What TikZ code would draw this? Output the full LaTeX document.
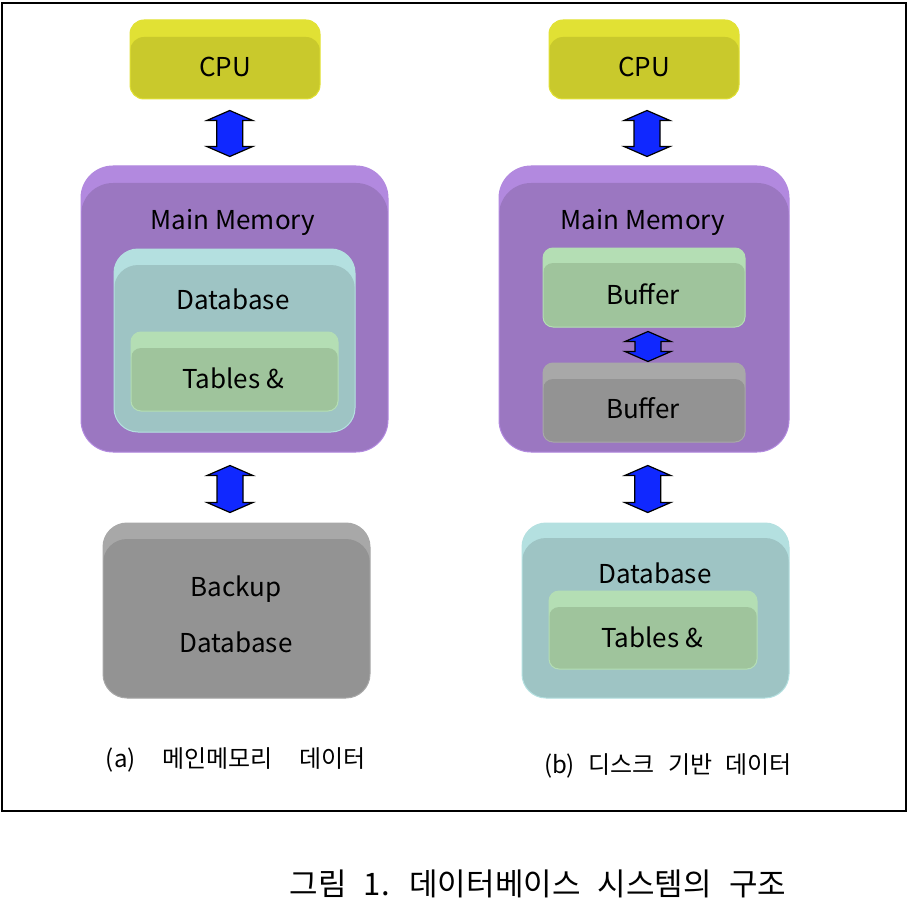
\documentclass[tikz,border=0pt]{standalone}
\usepackage{fontspec}
\setmainfont{Noto Sans CJK KR}
\newfontfamily\kor{Noto Sans CJK KR}[WordSpace=2.5]
\usetikzlibrary{calc}
\definecolor{cpuface}{RGB}{225,225,52}
\definecolor{cpubody}{RGB}{201,201,44}
\definecolor{memface}{RGB}{178,137,223}
\definecolor{membody}{RGB}{155,119,193}
\definecolor{dbface}{RGB}{180,224,224}
\definecolor{dbbody}{RGB}{158,196,196}
\definecolor{tabface}{RGB}{180,222,180}
\definecolor{tabbody}{RGB}{159,196,156}
\definecolor{bakface}{RGB}{168,168,168}
\definecolor{bakbody}{RGB}{147,147,147}
\definecolor{arrowblue}{RGB}{16,40,255}
\tikzset{
  slab/.style n args={4}{rectangle, rounded corners=#4, fill=#1, draw=#1,
    line width=1pt, inner sep=0pt,
    path picture={\fill[#2, rounded corners=#4]
      (path picture bounding box.south west) rectangle
      ([yshift=-#3pt]path picture bounding box.north east);}},
  gaptop/.store in=\gaptop, gapbot/.store in=\gapbot, shiftx/.store in=\shiftx,
  gaptop=10, gapbot=10, shiftx=0,
  dualarrow/.style={draw=black, line width=1.2pt, fill=arrowblue, line join=miter,
    to path={let \p1=($(\tikztostart.south)+(0,\gaptop)$),
      \p2=($(\tikztotarget.north)+(0,-\gapbot)$),
      \p3=($(\p1)!.5!(\p2)+(\shiftx,0)$) in
      (\x3,\y1) -- (\x3+23pt,\y1-10pt) -- (\x3+13pt,\y1-10pt)
      -- (\x3+13pt,\y2+10pt) -- (\x3+23pt,\y2+10pt) -- (\x3,\y2)
      -- (\x3-23pt,\y2+10pt) -- (\x3-13pt,\y2+10pt)
      -- (\x3-13pt,\y1-10pt) -- (\x3-23pt,\y1-10pt) -- cycle}},
}
\begin{document}
\begin{tikzpicture}[x=1pt,y=-1pt,
    txt/.style={font=\fontsize{26}{56}\selectfont, align=center, inner sep=0pt},
    captext/.style={font=\kor\fontsize{24}{28}\selectfont, inner sep=0pt}]
  \fill[white] (0,0) rectangle (908,920);
  \useasboundingbox (0,0) rectangle (908,920);
  \draw[line width=2.5pt] (2,3) rectangle (906,811);

  % (a) main memory
  \node[slab={cpuface}{cpubody}{17}{14pt}, minimum width=190pt, minimum height=79pt] (cpuA) at (225,59.5) {};
  \node[slab={memface}{membody}{17}{32pt}, minimum width=307pt, minimum height=286pt] (mmA) at (234.5,309) {};
  \node[slab={dbface}{dbbody}{16}{24pt}, minimum width=241pt, minimum height=183pt] (dbA) at (234.5,340.5) {};
  \node[slab={tabface}{tabbody}{16}{10pt}, minimum width=207pt, minimum height=79pt] (tabA) at (234.5,371.5) {};
  \node[slab={bakface}{bakbody}{16}{24pt}, minimum width=267pt, minimum height=175pt] (bakA) at (236.5,610.5) {};
  \node[txt] (cpuAtxt) at (225,67) {CPU};
  \node[txt] (mmAtxt) at (233,222) {Main Memory};
  \node[txt] (dbAtxt) at (233,299) {Database};
  \node[txt] (tabAtxt) at (233,378) {Tables \&};
  \node[txt] (bakAtxt) at (236,614) {Backup\\Database};
  \draw[dualarrow, gaptop=11, gapbot=9] (cpuA) to (mmA);
  \draw[dualarrow, gaptop=13, gapbot=10, shiftx=-5.5] (mmA) to (bakA);

  % (b) disk based
  \node[slab={cpuface}{cpubody}{17}{14pt}, minimum width=190pt, minimum height=79pt] (cpuB) at (644,59.5) {};
  \node[slab={memface}{membody}{17}{32pt}, minimum width=290pt, minimum height=286pt] (mmB) at (644,309) {};
  \node[slab={tabface}{tabbody}{15}{10pt}, minimum width=202pt, minimum height=79pt] (bufB1) at (644,287.5) {};
  \node[slab={bakface}{bakbody}{16}{10pt}, minimum width=202pt, minimum height=79pt] (bufB2) at (644,402.5) {};
  \node[slab={dbface}{dbbody}{15}{24pt}, minimum width=267pt, minimum height=175pt] (dbB) at (655.5,610.5) {};
  \node[slab={tabface}{tabbody}{16}{10pt}, minimum width=208pt, minimum height=78pt] (tabB) at (653,630) {};
  \node[txt] (cpuBtxt) at (644,67) {CPU};
  \node[txt] (mmBtxt) at (643,222) {Main Memory};
  \node[txt] (bufB1txt) at (643,294) {Buffer};
  \node[txt] (bufB2txt) at (643,408) {Buffer};
  \node[txt] (dbBtxt) at (655,573) {Database};
  \node[txt] (tabBtxt) at (652,637) {Tables \&};
  \draw[dualarrow, gaptop=11, gapbot=9, shiftx=3] (cpuB) to (mmB);
  \draw[dualarrow, gaptop=4, gapbot=1, shiftx=4] (bufB1) to (bufB2);
  \draw[dualarrow, gaptop=13, gapbot=10, shiftx=-2] (mmB) to (dbB);

  % captions
  \node[captext] (capA) at (236,760) {(a)~~메인메모리~~데이터};
  \node[captext] (capB) at (668,766) {(b) 디스크 기반 데이터};
  \node[captext, font=\kor\fontsize{31}{36}\selectfont] (fig) at (538,884) {그림 1. 데이터베이스 시스템의 구조};
\end{tikzpicture}
\end{document}
